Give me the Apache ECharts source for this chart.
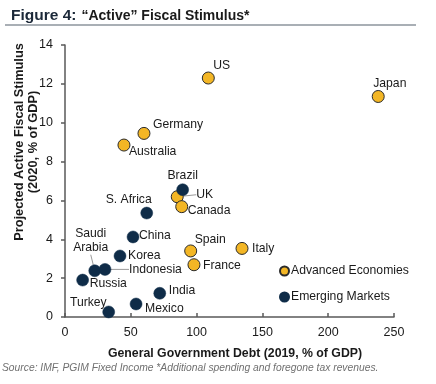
<!DOCTYPE html>
<html><head><meta charset="utf-8">
<script src="https://cdn.jsdelivr.net/npm/echarts@6/dist/echarts.min.js"></script>
<style>html,body{margin:0;padding:0;background:#fff}#c{width:436px;height:384px}</style>
</head><body><div id="c"></div>
<script>
// Advanced economies
const advNames = ['US','Japan','Germany','Australia','UK','Canada','Spain','Italy','France'];
const advDebt  = [108.9, 238, 60, 44.8, 85.3, 88.7, 95.5, 134.5, 98];
const advStim  = [12.3, 11.35, 9.45, 8.85, 6.19, 5.68, 3.4, 3.53, 2.69];
// Emerging markets
const emNames = ['Brazil','S. Africa','China','Korea','Saudi\nArabia','Indonesia','Russia','India','Mexico','Turkey'];
const emDebt  = [89.4, 62.1, 51.7, 41.8, 22.6, 30.4, 13.4, 72, 54, 33.2];
const emStim  = [6.55, 5.35, 4.12, 3.14, 2.38, 2.45, 1.9, 1.22, 0.67, 0.26];
const xTicks = [0, 50, 100, 150, 200, 250];
const yTicks = [0, 2, 4, 6, 8, 10, 12, 14];

// label placement (style only): dx, dy from marker centre, align, leader line
const labelPos = {
  'US':[5,-12,'left'], 'Japan':[-5,-13,'left'], 'Germany':[9,-9,'left'], 'Australia':[5,7,'left'],
  'UK':[19,-2,'left',true], 'Canada':[6,4,'left'], 'Spain':[4,-11,'left'], 'Italy':[10,0,'left'],
  'France':[9,1,'left'], 'Brazil':[0,-14,'center'], 'S. Africa':[5,-13,'right'], 'China':[6,-1,'left'],
  'Korea':[8,0,'left'], 'Saudi\nArabia':[-4,-30,'center',true], 'Indonesia':[24,0,'left',true],
  'Russia':[7,4,'left'], 'India':[9,-3,'left'], 'Mexico':[9,4.5,'left'], 'Turkey':[-2,-9,'right']
};

const GOLD = '#F3B625', NAVY = '#0F2C48';
const FF = 'Liberation Sans, Arial, sans-serif';
function mk(names, xs, ys) {
  return names.map((n, i) => {
    const p = labelPos[n];
    return { name: n, value: [xs[i], ys[i]], labelLine: { show: !!p[3] } };
  });
}
function layout(names) {
  return function (params) {
    const n = names[params.dataIndex];
    const p = labelPos[n];
    const cx = params.rect.x + params.rect.width / 2;
    const cy = params.rect.y + params.rect.height / 2;
    return { x: cx + p[0], y: cy + p[1], align: p[2], verticalAlign: 'middle' };
  };
}
const labelCommon = {
  show: true, formatter: '{b}', color: '#1a1a1a', fontSize: 12.2,
  fontFamily: FF, lineHeight: 14
};
const chart = echarts.init(document.getElementById('c'), null, { renderer: 'canvas' });
chart.setOption({
  animation: false,
  backgroundColor: '#fff',
  title: {
    text: '{b|Figure 4:} {n|“Active” Fiscal Stimulus*}',
    left: 6, top: 2,
    textStyle: {
      rich: {
        b: { fontWeight: 'bold', fontSize: 15.5, color: '#1b2838', fontFamily: FF },
        n: { fontSize: 14, color: '#1a1a1a', fontFamily: FF }
      }
    }
  },
  graphic: [
    { type: 'line', shape: { x1: 5, y1: 25, x2: 416, y2: 25 }, style: { stroke: '#8c959d', lineWidth: 1.5 } },
    { type: 'text', x: 26, y: 142, rotation: Math.PI / 2, style: {
      text: 'Projected Active Fiscal Stimulus\n(2020, % of GDP)', align: 'center', verticalAlign: 'middle',
      font: 'bold 12.8px Liberation Sans, Arial', fill: '#1a1a1a', lineHeight: 14 } },
    { type: 'text', x: 2, y: 368, style: {
      text: 'Source: IMF, PGIM Fixed Income *Additional spending and foregone tax revenues.',
      verticalAlign: 'middle', font: 'italic 10.3px Liberation Sans, Arial', fill: '#707070' } }
  ],
  grid: { left: 65, right: 42, top: 45, bottom: 67, containLabel: false },
  legend: {
    orient: 'vertical', left: 274, top: 260, itemGap: 14, itemWidth: 9, itemHeight: 9,
    icon: 'circle', textStyle: { fontSize: 12.2, color: '#1a1a1a', fontFamily: FF, padding: [0, 0, 0, -3] },
    data: ['Advanced Economies', 'Emerging Markets']
  },
  xAxis: {
    type: 'value', min: xTicks[0], max: xTicks[xTicks.length - 1], interval: 50,
    name: 'General Government Debt (2019, % of GDP)', nameLocation: 'middle', nameGap: 31,
    nameTextStyle: { fontWeight: 'bold', fontSize: 12.3, color: '#1a1a1a', fontFamily: FF, padding: [0, 0, 0, 11] },
    axisLine: { lineStyle: { color: '#595959', width: 1.5 } },
    axisTick: { show: true, inside: true, length: 4, lineStyle: { color: '#595959', width: 1.5 } },
    axisLabel: { margin: 9, fontSize: 12.5, color: '#1a1a1a', fontFamily: FF },
    splitLine: { show: false }
  },
  yAxis: {
    type: 'value', min: yTicks[0], max: yTicks[yTicks.length - 1], interval: 2,
    axisLine: { show: true, lineStyle: { color: '#595959', width: 1.5 } },
    axisTick: { show: true, length: 4, lineStyle: { color: '#595959', width: 1.5 } },
    axisLabel: { margin: 12, fontSize: 12.5, color: '#1a1a1a', fontFamily: FF },
    splitLine: { show: false }
  },
  series: [
    {
      name: 'Advanced Economies', type: 'scatter', symbolSize: 12,
      itemStyle: { color: GOLD, borderColor: '#2a2a2a', borderWidth: 1, opacity: 1 },
      data: mk(advNames, advDebt, advStim),
      label: labelCommon,
      labelLine: { lineStyle: { color: '#9a9a9a', width: 1 } },
      labelLayout: layout(advNames),
      emphasis: { disabled: true }
    },
    {
      name: 'Emerging Markets', type: 'scatter', symbolSize: 12,
      itemStyle: { color: NAVY, borderColor: NAVY, borderWidth: 0.5, opacity: 1 },
      data: mk(emNames, emDebt, emStim),
      label: labelCommon,
      labelLine: { lineStyle: { color: '#9a9a9a', width: 1 } },
      labelLayout: layout(emNames),
      emphasis: { disabled: true }
    }
  ]
});
</script></body></html>
